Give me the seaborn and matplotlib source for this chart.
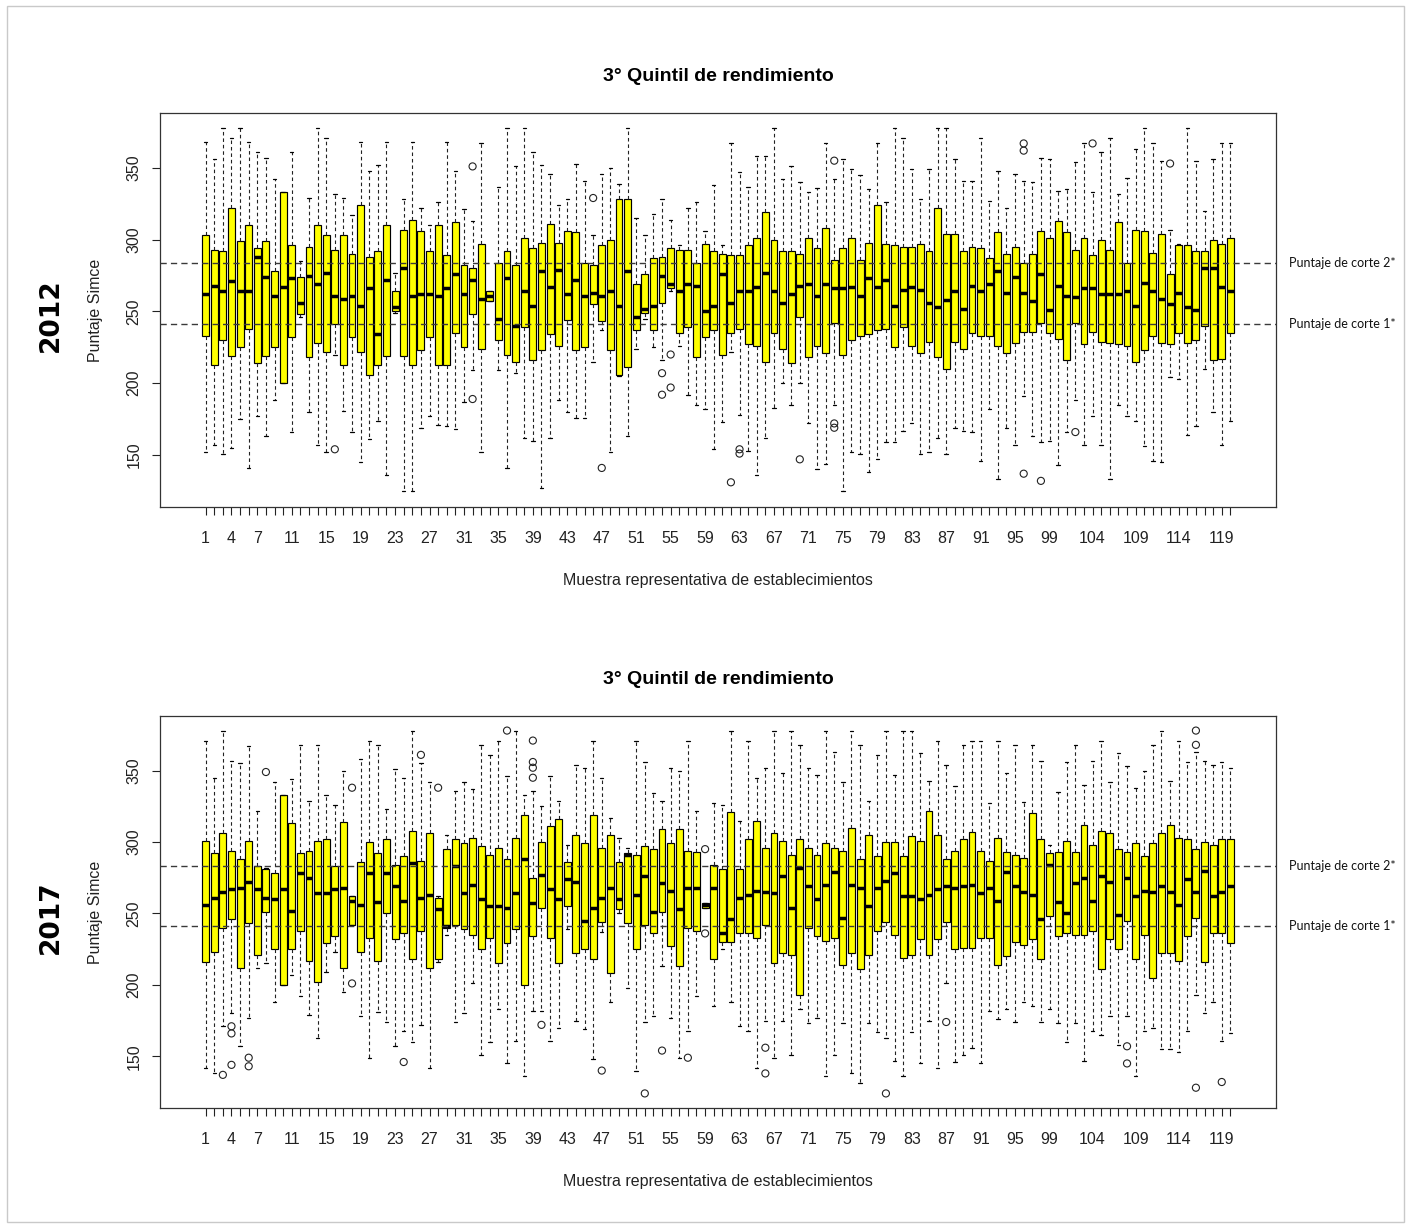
import numpy as np
import pandas as pd
import matplotlib
matplotlib.use("Agg")
import matplotlib.pyplot as plt
import seaborn as sns
from matplotlib.patches import Rectangle

# ---------------- data ----------------
boxes = list(range(1, 121))

# 2012 : lower whisker, Q1, median, Q3, upper whisker
lo_2012 = [152, 157, 151, 155, 175, 141, 177, 163, 188, 200, 166, 246, 180, 157, 152, 220, 181, 166, 145, 161,
           174, 136, 249, 125, 125, 169, 177, 171, 170, 168, 187, 209, 152, 257, 209, 141, 207, 162, 160, 127,
           162, 188, 180, 176, 176, 215, 237, 152, 205, 163, 224, 245, 225, 216, 264, 226, 192, 185, 182, 154,
           173, 222, 178, 153, 136, 162, 183, 200, 185, 200, 172, 140, 144, 185, 125, 152, 151, 138, 147, 159,
           159, 167, 172, 151, 152, 162, 151, 169, 167, 166, 146, 182, 133, 169, 157, 191, 163, 159, 160, 143,
           166, 188, 157, 177, 157, 133, 185, 177, 174, 156, 146, 145, 204, 203, 164, 170, 210, 180, 157, 174]
q1_2012 = [233, 213, 230, 219, 225, 238, 214, 219, 225, 200, 232, 248, 218, 228, 222, 241, 213, 232, 222, 206,
           213, 219, 250, 219, 213, 223, 232, 213, 213, 235, 225, 248, 224, 257, 230, 220, 215, 239, 216, 223,
           234, 226, 244, 223, 225, 255, 243, 223, 206, 211, 237, 249, 237, 256, 266, 235, 239, 218, 232, 237,
           220, 235, 238, 227, 226, 215, 235, 224, 214, 246, 218, 226, 221, 242, 220, 230, 233, 234, 237, 238,
           225, 239, 226, 221, 229, 218, 210, 229, 224, 235, 233, 233, 226, 221, 228, 236, 236, 242, 235, 231,
           216, 242, 227, 236, 229, 228, 227, 226, 215, 223, 233, 228, 227, 235, 228, 230, 240, 216, 217, 235]
med_2012 = [262, 268, 264, 271, 264, 264, 288, 274, 261, 267, 273, 256, 275, 269, 277, 261, 259, 261, 254, 266,
            234, 272, 253, 280, 261, 262, 262, 261, 266, 276, 262, 272, 259, 261, 245, 273, 240, 264, 254, 278,
            267, 279, 262, 272, 261, 263, 261, 264, 254, 278, 246, 252, 254, 275, 269, 264, 269, 268, 250, 254,
            276, 256, 264, 264, 267, 277, 264, 256, 262, 268, 269, 261, 269, 266, 266, 267, 261, 273, 267, 272,
            254, 265, 267, 265, 256, 253, 258, 264, 252, 268, 264, 269, 278, 263, 274, 263, 257, 276, 251, 268,
            261, 260, 266, 266, 262, 262, 262, 264, 254, 270, 264, 259, 255, 263, 253, 251, 280, 280, 267, 264]
q3_2012 = [303, 293, 292, 322, 299, 310, 294, 299, 278, 333, 296, 274, 295, 310, 303, 293, 303, 290, 324, 288,
           292, 310, 264, 307, 314, 306, 292, 310, 289, 312, 282, 280, 297, 264, 284, 292, 282, 301, 294, 298,
           311, 298, 306, 305, 284, 282, 296, 300, 328, 328, 269, 276, 287, 288, 294, 293, 293, 284, 297, 292,
           290, 289, 289, 296, 301, 319, 300, 292, 292, 290, 301, 294, 308, 286, 294, 301, 286, 298, 324, 297,
           296, 295, 295, 297, 292, 322, 304, 304, 292, 295, 294, 287, 305, 290, 295, 284, 290, 306, 301, 313,
           305, 293, 301, 289, 300, 293, 312, 284, 307, 306, 291, 304, 276, 296, 296, 292, 292, 300, 297, 301]
hi_2012 = [368, 356, 378, 371, 378, 368, 361, 357, 342, 333, 361, 285, 329, 378, 371, 332, 329, 317, 368, 348,
           352, 368, 277, 328, 368, 322, 310, 326, 368, 348, 321, 313, 367, 264, 337, 378, 351, 378, 361, 352,
           346, 324, 328, 353, 341, 303, 346, 350, 339, 378, 315, 303, 318, 328, 314, 296, 322, 326, 306, 338,
           296, 367, 347, 337, 358, 358, 378, 342, 351, 340, 333, 336, 367, 342, 356, 349, 345, 335, 367, 326,
           378, 371, 349, 328, 349, 378, 378, 356, 341, 341, 371, 327, 348, 322, 346, 341, 340, 357, 356, 334,
           335, 354, 367, 333, 361, 371, 332, 343, 363, 378, 367, 355, 307, 297, 378, 355, 320, 356, 367, 367]
out_box_2012 = [16, 32, 32, 46, 47, 54, 54, 55, 55, 62, 63, 63, 70, 74, 74, 74, 96, 96, 96, 98, 102, 104, 113]
out_val_2012 = [154, 351, 189, 329, 141, 207, 192, 220, 197, 131, 154, 151, 147, 355, 172, 169, 367, 362, 137,
                132, 166, 367, 353]

# 2017
lo_2017 = [142, 138, 171, 180, 157, 177, 212, 215, 188, 200, 207, 192, 179, 163, 209, 223, 195, 242, 178, 149,
           181, 174, 157, 168, 160, 172, 142, 216, 235, 174, 180, 201, 151, 160, 183, 145, 161, 136, 182, 182,
           161, 170, 239, 175, 169, 148, 237, 188, 250, 198, 140, 174, 178, 213, 177, 149, 168, 192, 254, 185,
           225, 188, 171, 168, 142, 175, 149, 175, 151, 183, 173, 177, 136, 151, 173, 138, 131, 173, 167, 163,
           147, 136, 167, 145, 175, 142, 201, 146, 151, 156, 145, 182, 176, 183, 174, 188, 185, 174, 183, 173,
           160, 173, 147, 168, 165, 178, 158, 178, 136, 168, 170, 155, 155, 153, 168, 193, 180, 188, 161, 166]
q1_2017 = [216, 223, 240, 246, 212, 243, 221, 251, 225, 200, 225, 238, 217, 202, 229, 234, 212, 242, 223, 233,
           217, 250, 232, 236, 218, 238, 212, 218, 240, 242, 239, 235, 225, 233, 215, 229, 239, 200, 234, 254,
           233, 215, 255, 222, 225, 218, 244, 208, 253, 243, 225, 242, 236, 251, 227, 213, 240, 238, 254, 218,
           230, 230, 236, 236, 233, 242, 215, 222, 221, 193, 240, 234, 231, 233, 214, 222, 211, 221, 238, 244,
           235, 219, 221, 232, 221, 232, 244, 225, 226, 226, 233, 233, 214, 220, 230, 228, 232, 218, 248, 234,
           236, 235, 235, 238, 211, 232, 225, 245, 218, 235, 205, 222, 222, 217, 234, 247, 216, 236, 236, 229]
med_2017 = [256, 261, 265, 267, 268, 272, 267, 261, 260, 267, 252, 278, 275, 264, 264, 267, 268, 259, 256, 278,
            258, 278, 269, 259, 285, 261, 263, 253, 241, 283, 264, 270, 260, 255, 255, 254, 264, 288, 257, 277,
            267, 260, 274, 272, 245, 254, 261, 268, 260, 291, 263, 276, 251, 271, 266, 253, 268, 268, 256, 268,
            236, 246, 261, 263, 266, 265, 264, 276, 254, 282, 269, 260, 270, 279, 247, 270, 268, 255, 268, 273,
            278, 262, 262, 260, 263, 267, 269, 268, 269, 270, 264, 268, 259, 279, 269, 265, 263, 246, 284, 258,
            250, 271, 275, 259, 276, 272, 249, 275, 262, 266, 265, 269, 265, 256, 274, 265, 280, 262, 265, 269]
q3_2017 = [301, 292, 306, 294, 288, 301, 283, 281, 278, 333, 313, 292, 294, 301, 302, 283, 314, 262, 286, 300,
           292, 302, 284, 290, 308, 287, 306, 261, 295, 302, 299, 303, 297, 291, 296, 288, 303, 319, 275, 300,
           311, 316, 286, 305, 299, 319, 296, 305, 286, 292, 291, 297, 295, 309, 299, 309, 294, 293, 257, 284,
           281, 321, 281, 302, 315, 296, 306, 301, 291, 302, 296, 291, 299, 296, 294, 310, 288, 305, 290, 300,
           300, 290, 304, 301, 322, 305, 288, 294, 302, 307, 294, 287, 303, 293, 291, 289, 320, 302, 292, 293,
           301, 293, 312, 298, 308, 306, 295, 293, 299, 290, 299, 306, 312, 303, 302, 295, 300, 298, 302, 302]
hi_2017 = [371, 345, 378, 357, 355, 367, 322, 282, 342, 333, 344, 368, 329, 368, 333, 326, 350, 262, 358, 371,
           368, 323, 351, 345, 378, 355, 342, 262, 305, 336, 342, 337, 368, 361, 371, 346, 378, 333, 336, 325,
           346, 329, 298, 354, 352, 371, 345, 317, 303, 296, 371, 356, 334, 329, 352, 350, 371, 322, 257, 327,
           326, 378, 315, 371, 345, 352, 378, 348, 378, 368, 352, 347, 378, 363, 342, 378, 368, 329, 361, 378,
           347, 378, 378, 362, 343, 371, 354, 339, 368, 371, 371, 327, 371, 348, 368, 328, 368, 357, 298, 335,
           356, 368, 340, 357, 371, 342, 362, 353, 338, 350, 368, 378, 343, 371, 356, 363, 357, 354, 356, 352]
out_box_2017 = [3, 4, 4, 4, 6, 6, 8, 18, 18, 24, 26, 28, 36, 39, 39, 39, 39, 40, 47, 52, 54, 57, 59, 59, 66, 66,
                80, 87, 108, 108, 116, 116, 116, 119]
out_val_2017 = [137, 171, 166, 144, 149, 143, 349, 338, 201, 146, 361, 338, 378, 371, 356, 352, 345, 172, 140,
                124, 154, 149, 295, 236, 156, 138, 124, 174, 157, 145, 378, 368, 128, 132]

cut_1 = 241
cut_2 = 283.5
labelled_ticks = [1, 4, 7, 11, 15, 19, 23, 27, 31, 35, 39, 43, 47, 51, 55, 59, 63, 67, 71, 75, 79, 83, 87, 91,
                  95, 99, 104, 109, 114, 119]
y_ticks = [150, 200, 250, 300, 350]

title_txt = "3° Quintil de rendimiento"
xlabel_txt = "Muestra representativa de establecimientos"
ylabel_txt = "Puntaje Simce"

# ---------------- style ----------------
sns.set_theme(style="ticks")
plt.rcParams["font.family"] = ["Liberation Sans", "DejaVu Sans"]
plt.rcParams["axes.linewidth"] = 0.9

W, H = 1410, 1228
fig = plt.figure(figsize=(W / 100, H / 100), dpi=100)
fig.patch.set_facecolor("white")
fig.add_artist(Rectangle((7 / W, 6 / H), (1404 - 7) / W, (1222 - 6) / H, transform=fig.transFigure,
                         fill=False, edgecolor="#c9c9c9", linewidth=1.0))

panels = [
    ("2012", lo_2012, q1_2012, med_2012, q3_2012, hi_2012, out_box_2012, out_val_2012, 113, 507),
    ("2017", lo_2017, q1_2017, med_2017, q3_2017, hi_2017, out_box_2017, out_val_2017, 716, 1108),
]

ax_left, ax_right = 160, 1276
for year, lo, q1, med, q3, hi, ob, ov, top_px, bot_px in panels:
    ax = fig.add_axes([ax_left / W, 1 - bot_px / H, (ax_right - ax_left) / W, (bot_px - top_px) / H])
    rows = []
    for b, a1, a2, a3, a4, a5 in zip(boxes, lo, q1, med, q3, hi):
        for v in (a1, a2, a3, a4, a5):
            rows.append((b, v))
    df = pd.DataFrame(rows, columns=["box", "score"])

    sns.boxplot(data=df, x="box", y="score", native_scale=True, whis=(0, 100), width=0.8,
                color="#FFFF00", saturation=1, linecolor="black", linewidth=0.85, showfliers=False,
                medianprops=dict(color="black", linewidth=2.5, solid_capstyle="butt"),
                whiskerprops=dict(color="#222222", linestyle=(0, (3.2, 2.6)), linewidth=0.8),
                capprops=dict(color="black", linewidth=0.9),
                ax=ax)

    fl = pd.DataFrame({"box": ob, "score": ov})
    sns.scatterplot(data=fl, x="box", y="score", marker="o", s=26, facecolor="none",
                    edgecolor="#222222", linewidth=0.8, ax=ax, zorder=4, legend=False)

    for c in (cut_1, cut_2):
        ax.axhline(c, color="#3a3a3a", linestyle=(0, (4.5, 3)), linewidth=1.0, zorder=5)

    ax.set_xlim(-4.3, 125.3)
    ax.set_ylim(113.8, 388.2)
    ax.set_xticks(boxes)
    ax.set_xticklabels([str(b) if b in labelled_ticks else "" for b in boxes])
    ax.set_yticks(y_ticks)
    ax.set_yticklabels([str(t) for t in y_ticks])
    ax.tick_params(axis="x", length=5.5, width=0.8, pad=12, labelsize=11.5, colors="#222222")
    ax.tick_params(axis="y", length=5.5, width=0.8, pad=8, labelsize=11.5, colors="#222222",
                   labelrotation=90)
    for lab in ax.get_yticklabels():
        lab.set_va("center")
    for s in ax.spines.values():
        s.set_visible(True)
        s.set_color("#333333")
        s.set_linewidth(0.9)

    ax.set_xlabel(xlabel_txt, fontsize=11.5, color="#222222", labelpad=19)
    ax.set_ylabel(ylabel_txt, fontsize=11.5, color="#222222", labelpad=17)
    ax.set_title(title_txt, fontsize=14, fontweight="bold", color="black", pad=23)
    ax.grid(False)

    trans = matplotlib.transforms.blended_transform_factory(ax.transAxes, ax.transData)
    ax.text(1.0116, cut_2, "Puntaje de corte 2*", transform=trans, fontsize=9, va="center", ha="left",
            family=["Lato", "DejaVu Sans"], color="#111111", clip_on=False)
    ax.text(1.0116, cut_1, "Puntaje de corte 1*", transform=trans, fontsize=9, va="center", ha="left",
            family=["Lato", "DejaVu Sans"], color="#111111", clip_on=False)

    fig.text(51 / W, 1 - ((top_px + bot_px) / 2 + 5) / H, year, rotation=90, ha="center", va="center",
             fontsize=19, fontweight="bold", family=["DejaVu Sans"], color="black")

fig.savefig("out.png", dpi=100, facecolor="white")
